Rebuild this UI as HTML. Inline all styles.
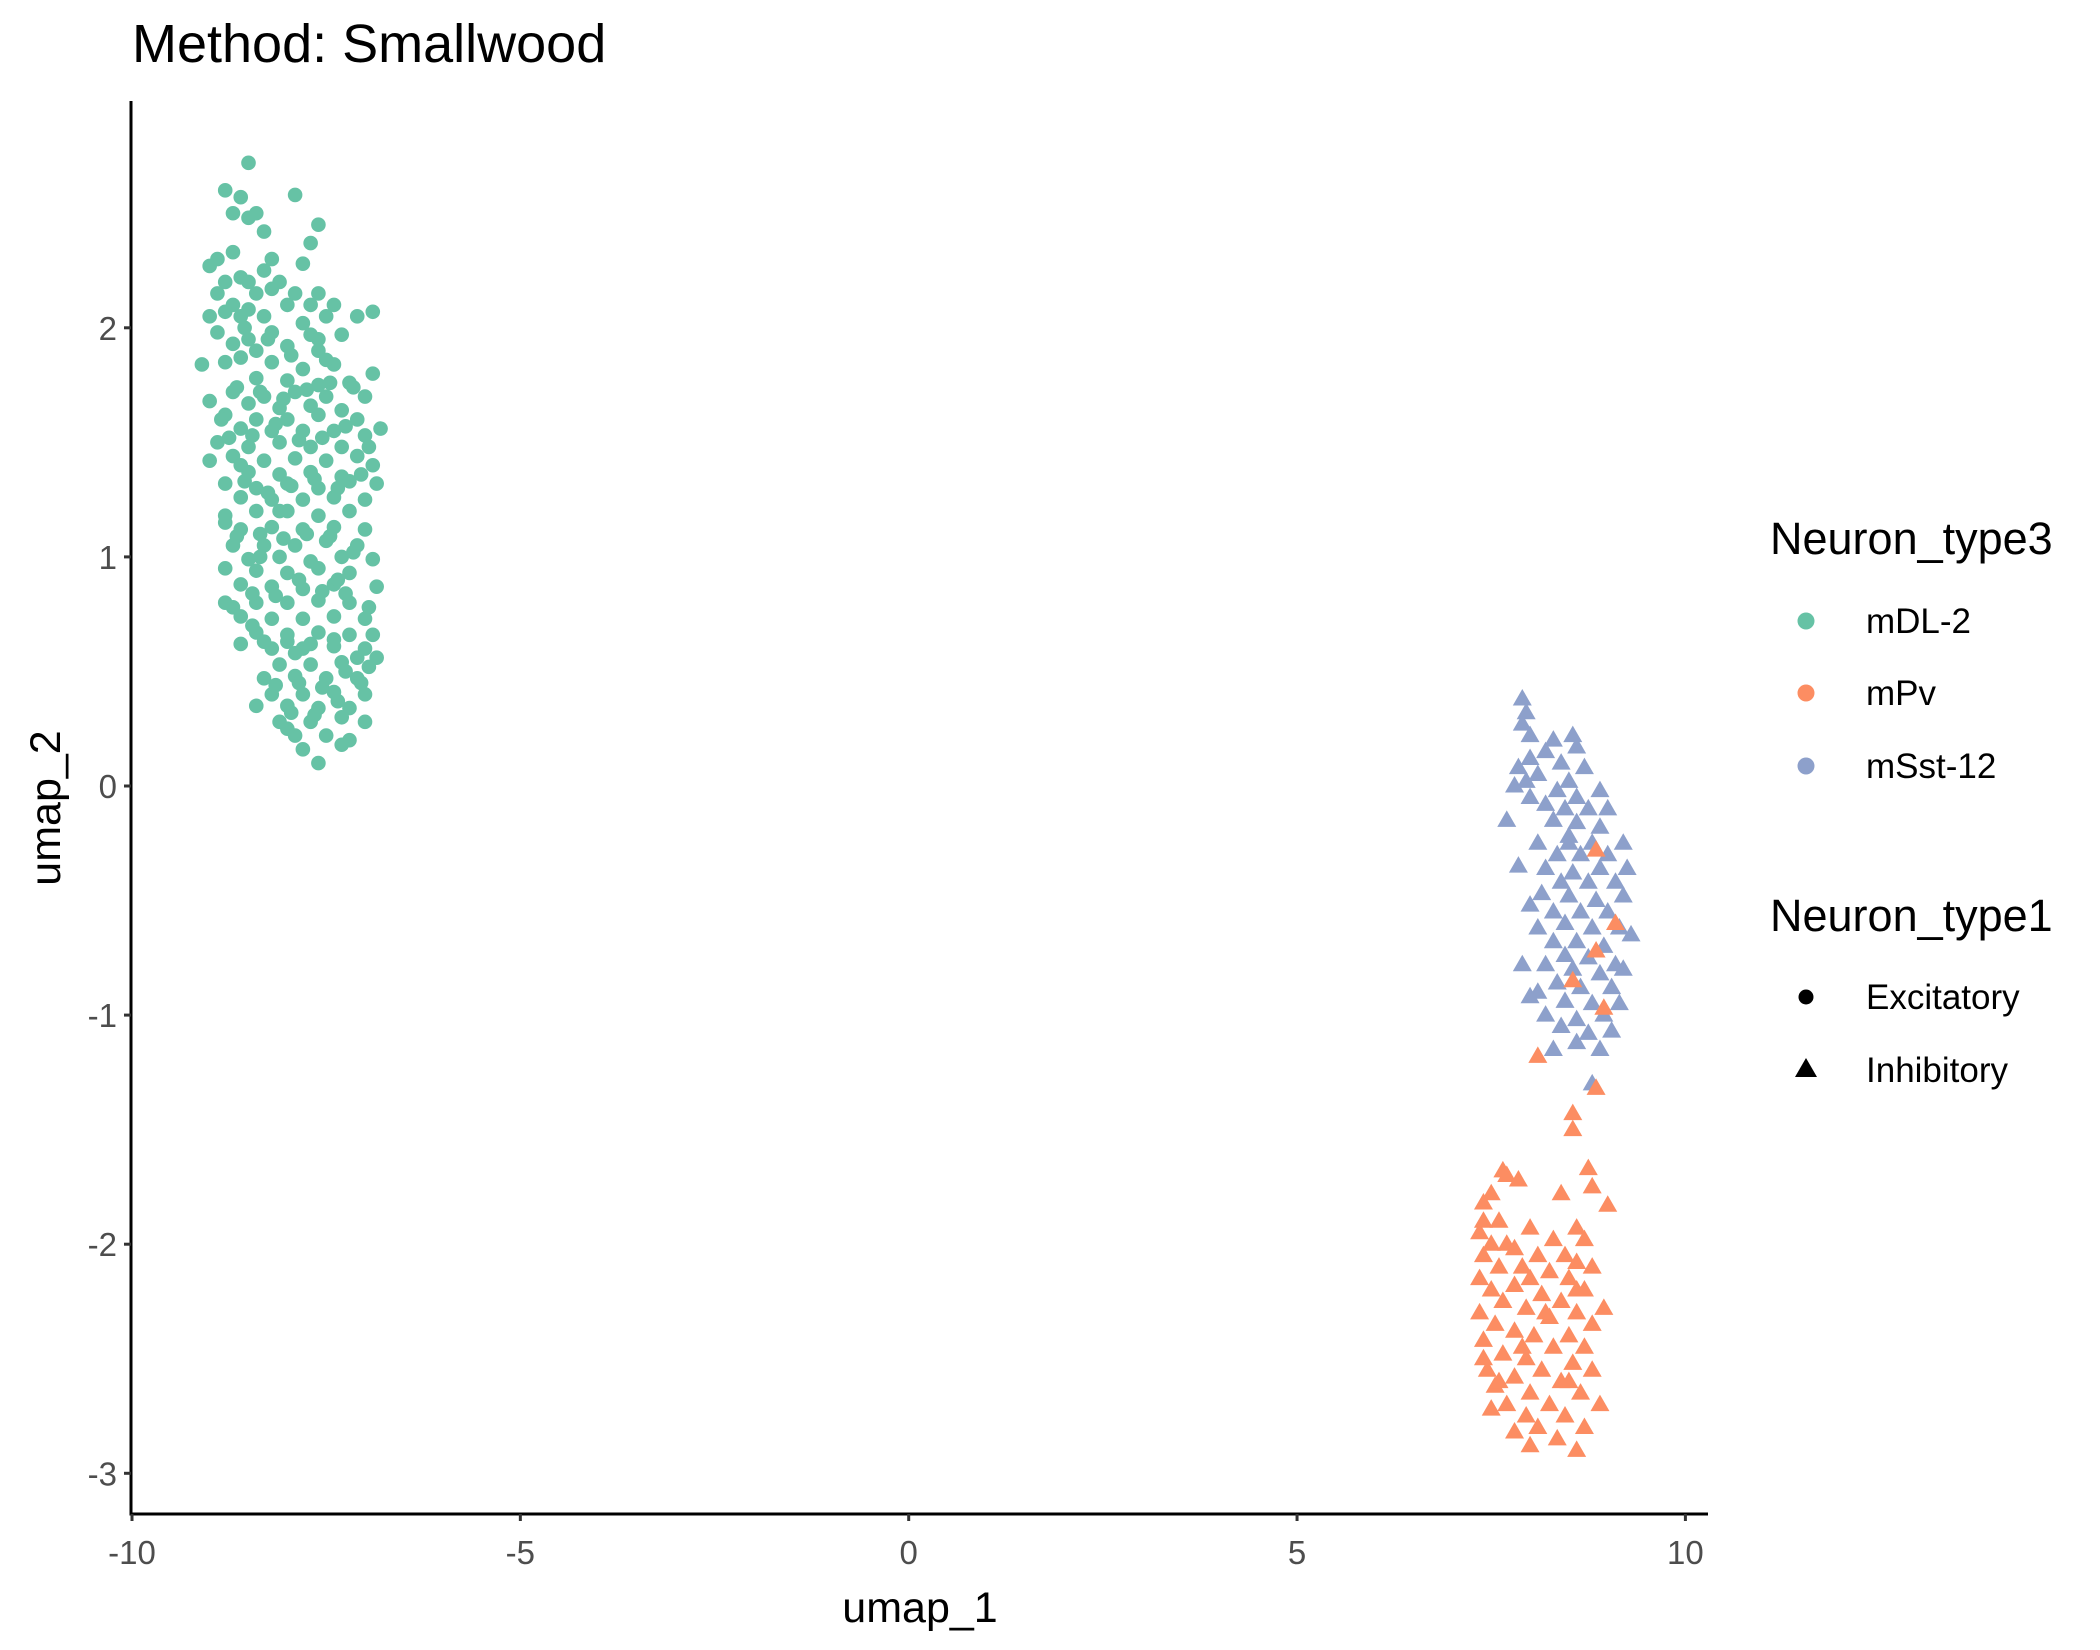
<!DOCTYPE html>
<html><head><meta charset="utf-8"><style>
html,body{margin:0;padding:0;background:#fff;}
svg{display:block;font-family:"Liberation Sans",Arial,sans-serif;}
</style></head><body>
<svg id="chart" width="2100" height="1650" viewBox="0 0 2100 1650" xmlns="http://www.w3.org/2000/svg">
<rect width="2100" height="1650" fill="#fff"/>
<text x="132" y="62" font-size="54" fill="#000">Method: Smallwood</text>
<g id="points"></g>
<g id="axes"></g>
<text x="920" y="1622" font-size="43" text-anchor="middle" fill="#000">umap_1</text>
<text transform="translate(60,808) rotate(-90)" font-size="43" text-anchor="middle" fill="#000">umap_2</text>
<g>
<text x="1770" y="554" font-size="45" fill="#000">Neuron_type3</text>
<g><circle cx="1806" cy="621" r="8.5" fill="#66c2a5"/><text x="1866" y="633" font-size="35" fill="#000">mDL-2</text></g>
<g><circle cx="1806" cy="693" r="8.5" fill="#fc8d62"/><text x="1866" y="705" font-size="35" fill="#000">mPv</text></g>
<g><circle cx="1806" cy="766" r="8.5" fill="#8da0cb"/><text x="1866" y="778" font-size="35" fill="#000">mSst-12</text></g>
</g>
<g>
<text x="1770" y="931" font-size="45" fill="#000">Neuron_type1</text>
<g><circle cx="1806" cy="997" r="7.5" fill="#000"/><text x="1866" y="1009" font-size="35" fill="#000">Excitatory</text></g>
<g><polygon points="1806,1058 1817,1077 1795,1077" fill="#000"/><text x="1866" y="1082" font-size="35" fill="#000">Inhibitory</text></g>
</g>
</svg>
<script>
const xTicks = [-10, -5, 0, 5, 10];
const yTicks = [-3, -2, -1, 0, 1, 2];
const greenX = [-8.5,-8.8,-8.6,-7.9,-8.7,-8.4,-8.5,-7.6,-8.3,-7.7,-8.7,-7.8,-9.0,-8.9,-8.3,-8.6,-8.8,-8.5,-8.1,-8.9,-8.4,-7.9,-7.6,-8.2,-8.7,-8.5,-8.0,-7.4,-6.9,-9.0,-8.8,-8.6,-8.3,-7.8,-7.5,-7.1,-8.9,-8.5,-8.2,-7.7,-7.3,-8.7,-8.4,-8.0,-7.6,-9.1,-8.8,-8.6,-8.2,-7.8,-7.4,-6.9,-8.4,-8.0,-7.6,-7.2,-8.7,-8.3,-7.9,-7.5,-7.0,-9.0,-8.5,-8.1,-7.7,-7.3,-8.8,-8.4,-8.0,-7.6,-7.1,-6.8,-8.6,-8.2,-7.8,-7.4,-7.0,-8.9,-8.5,-8.1,-7.7,-7.3,-8.7,-9.0,-8.3,-7.9,-7.5,-7.1,-6.9,-8.5,-8.1,-7.7,-7.3,-8.8,-8.4,-8.0,-7.6,-7.2,-6.85,-8.6,-8.2,-7.8,-7.4,-7.0,-8.8,-8.4,-8.0,-7.6,-7.2,-8.6,-8.2,-7.8,-7.4,-7.0,-8.7,-8.3,-7.9,-7.5,-7.1,-8.5,-8.1,-7.7,-7.3,-6.9,-8.8,-8.4,-8.0,-7.6,-7.2,-8.6,-8.2,-7.8,-7.4,-6.85,-8.8,-8.4,-8.0,-7.6,-7.2,-8.6,-8.2,-7.8,-7.4,-7.0,-8.4,-8.0,-7.6,-7.2,-6.9,-8.6,-8.2,-7.8,-7.4,-7.0,-6.85,-8.1,-7.7,-7.3,-6.95,-8.3,-7.9,-7.5,-7.1,-8.2,-7.8,-7.4,-7.0,-8.4,-8.0,-7.6,-7.2,-8.1,-7.7,-7.3,-7.0,-7.9,-7.5,-7.2,-7.8,-7.3,-7.6,-8.0,
 -8.65,-8.35,-8.05,-7.75,-7.45,-7.15,-8.75,-8.45,-8.15,-7.85,-7.55,-7.25,-6.95,-8.55,-8.25,-7.95,-7.65,-7.35,-7.05,-8.65,-8.35,-8.05,-7.75,-7.45,-7.15,-8.45,-8.15,-7.85,-7.55,-7.25,-6.95,-8.3,-8.0,-7.7,-7.4,-7.1,-8.15,-7.85,-7.55,-7.25,-7.95,-7.65,-7.35,-8.55,-8.25,-7.95,-8.85,-8.6,-8.35,-7.7,-8.2,-7.5,-8.8,-8.45,-7.35,-7.05,-8.7,-7.9,-8.1,-7.6];
const greenY = [2.72,2.6,2.57,2.58,2.5,2.5,2.48,2.45,2.42,2.37,2.33,2.28,2.27,2.3,2.25,2.22,2.2,2.2,2.2,2.15,2.15,2.15,2.15,2.17,2.1,2.08,2.1,2.1,2.07,2.05,2.07,2.05,2.05,2.02,2.05,2.05,1.98,1.95,1.98,1.97,1.97,1.93,1.9,1.92,1.9,1.84,1.85,1.87,1.85,1.82,1.84,1.8,1.78,1.77,1.75,1.76,1.72,1.7,1.72,1.7,1.7,1.68,1.67,1.65,1.66,1.64,1.62,1.6,1.6,1.62,1.6,1.56,1.56,1.55,1.55,1.55,1.53,1.5,1.48,1.5,1.48,1.48,1.44,1.42,1.42,1.43,1.42,1.44,1.4,1.37,1.36,1.37,1.35,1.32,1.3,1.32,1.3,1.33,1.32,1.26,1.25,1.25,1.26,1.25,1.18,1.2,1.2,1.18,1.2,1.12,1.13,1.12,1.13,1.12,1.05,1.05,1.05,1.07,1.05,0.99,1.0,0.98,1.0,0.99,0.95,0.94,0.93,0.95,0.93,0.88,0.87,0.86,0.88,0.87,0.8,0.8,0.8,0.81,0.8,0.74,0.73,0.73,0.74,0.73,0.67,0.66,0.67,0.66,0.66,0.62,0.6,0.6,0.61,0.6,0.56,0.53,0.53,0.54,0.52,0.47,0.48,0.47,0.47,0.4,0.4,0.41,0.4,0.35,0.35,0.34,0.34,0.28,0.28,0.3,0.28,0.22,0.22,0.2,0.16,0.18,0.1,0.25,
 1.74,1.72,1.69,1.73,1.76,1.74,1.52,1.53,1.58,1.51,1.52,1.57,1.48,1.33,1.28,1.31,1.34,1.3,1.36,1.09,1.1,1.08,1.1,1.09,1.02,0.84,0.83,0.9,0.85,0.84,0.78,0.63,0.63,0.62,0.64,0.56,0.44,0.45,0.43,0.5,0.32,0.31,0.37,2.0,1.95,1.88,1.6,1.4,1.0,2.1,2.3,1.86,1.15,0.7,0.9,0.45,0.78,0.58,1.2,1.95];
const blueX = [7.9,7.95,7.9,8.0,8.3,8.55,8.6,8.2,8.0,8.4,7.85,8.7,8.1,7.95,8.5,7.8,8.35,8.9,8.0,8.6,8.2,8.45,8.75,9.0,8.3,8.6,8.9,8.5,8.1,8.8,9.2,8.35,8.65,9.0,7.85,8.2,8.55,8.9,9.25,8.4,8.75,9.1,8.15,8.5,8.85,9.2,8.0,8.3,8.65,9.0,8.45,8.8,9.15,8.1,8.3,8.6,8.95,9.3,8.45,8.75,9.1,7.9,8.2,8.55,8.9,9.2,8.35,8.65,9.05,8.1,8.45,8.8,9.15,8.2,8.6,8.95,8.4,9.05,8.75,8.6,8.9,8.3,8.8,8.0,7.7,8.5];
const blueY = [0.38,0.32,0.27,0.22,0.2,0.22,0.17,0.15,0.12,0.1,0.08,0.08,0.05,0.02,0.02,0.0,-0.02,-0.02,-0.05,-0.05,-0.08,-0.1,-0.1,-0.1,-0.15,-0.16,-0.18,-0.22,-0.25,-0.25,-0.25,-0.3,-0.3,-0.3,-0.35,-0.36,-0.38,-0.36,-0.36,-0.42,-0.42,-0.42,-0.47,-0.48,-0.5,-0.48,-0.52,-0.55,-0.55,-0.55,-0.6,-0.62,-0.62,-0.62,-0.68,-0.68,-0.7,-0.65,-0.74,-0.75,-0.78,-0.78,-0.78,-0.8,-0.82,-0.8,-0.86,-0.88,-0.88,-0.9,-0.94,-0.95,-0.95,-1.0,-1.02,-1.0,-1.05,-1.07,-1.08,-1.12,-1.15,-1.15,-1.3,-0.92,-0.15,-0.25];
const orangeX = [8.85,9.1,8.85,8.55,8.95,8.1,8.85,8.55,8.55,8.75,7.65,7.7,7.85,8.8,7.5,8.4,7.4,9.0,7.4,7.6,8.0,8.6,7.35,7.5,8.3,8.7,7.8,8.1,8.45,7.4,7.9,8.6,8.8,7.6,8.25,7.35,8.0,8.5,7.8,8.7,7.5,8.15,8.4,7.65,8.95,7.35,7.95,8.6,8.25,7.55,8.8,7.8,8.05,8.5,7.4,8.3,8.7,7.65,7.95,8.55,7.45,8.15,8.8,7.8,8.4,7.55,8.0,8.65,7.7,8.25,8.9,7.5,7.95,8.45,8.1,8.7,7.8,8.35,8.6,8.0,7.6,8.2,7.7,8.5,7.9,8.6,7.4];
const orangeY = [-0.28,-0.6,-0.72,-0.85,-0.97,-1.18,-1.32,-1.43,-1.5,-1.67,-1.68,-1.7,-1.72,-1.75,-1.78,-1.78,-1.82,-1.83,-1.9,-1.9,-1.93,-1.93,-1.95,-2.0,-1.98,-1.98,-2.02,-2.05,-2.05,-2.05,-2.1,-2.08,-2.1,-2.1,-2.12,-2.15,-2.15,-2.15,-2.18,-2.2,-2.2,-2.22,-2.25,-2.25,-2.28,-2.3,-2.28,-2.3,-2.32,-2.35,-2.35,-2.38,-2.4,-2.4,-2.42,-2.45,-2.45,-2.48,-2.5,-2.52,-2.55,-2.55,-2.55,-2.58,-2.6,-2.62,-2.65,-2.65,-2.7,-2.7,-2.7,-2.72,-2.75,-2.75,-2.8,-2.8,-2.82,-2.85,-2.9,-2.88,-2.6,-2.3,-2.0,-2.6,-2.45,-2.2,-2.5];

const NS = 'http://www.w3.org/2000/svg';
const X0 = 132, XPU = 77.67;
const Y0 = 786, YPU = 229.1;
function sx(v){ return X0 + (v + 10) * XPU; }
function sy(v){ return Y0 - v * YPU; }

const pts = document.getElementById('points');
function circle(x, y, color){
  const c = document.createElementNS(NS, 'circle');
  c.setAttribute('cx', sx(x)); c.setAttribute('cy', sy(y)); c.setAttribute('r', 7.3);
  c.setAttribute('fill', color);
  
  
  pts.appendChild(c);
}
function tri(x, y, color){
  const cx = sx(x), cy = sy(y);
  const p = document.createElementNS(NS, 'polygon');
  p.setAttribute('points', cx + ',' + (cy - 10) + ' ' + (cx + 9.5) + ',' + (cy + 6.5) + ' ' + (cx - 9.5) + ',' + (cy + 6.5));
  p.setAttribute('fill', color);
  
  
  pts.appendChild(p);
}
greenX.forEach((x, i) => circle(x, greenY[i], '#66c2a5'));
blueX.forEach((x, i) => tri(x, blueY[i], '#8da0cb'));
orangeX.forEach((x, i) => tri(x, orangeY[i], '#fc8d62'));

const ax = document.getElementById('axes');
function line(x1, y1, x2, y2, w, col, name){
  const l = document.createElementNS(NS, 'line');
  l.setAttribute('x1', x1); l.setAttribute('y1', y1); l.setAttribute('x2', x2); l.setAttribute('y2', y2);
  l.setAttribute('stroke', col); l.setAttribute('stroke-width', w);
  
  
  ax.appendChild(l);
}
function text(x, y, s, anchor, name){
  const t = document.createElementNS(NS, 'text');
  t.setAttribute('x', x); t.setAttribute('y', y); t.setAttribute('text-anchor', anchor);
  t.setAttribute('font-size', 33); t.setAttribute('fill', '#4d4d4d');
  t.textContent = s;
  
  
  ax.appendChild(t);
}
const AXL = 131, AXB = 1514;
line(AXL, 101, AXL, AXB + 1.5, 3, '#000', 'y-axis-line');
line(AXL - 1.5, AXB, 1708, AXB, 3, '#000', 'x-axis-line');
xTicks.forEach(v => {
  line(sx(v), AXB, sx(v), AXB + 7, 3, '#333', 'x-tick');
  text(sx(v), AXB + 50, String(v), 'middle', 'x-tick-label');
});
yTicks.forEach(v => {
  line(AXL - 7, sy(v), AXL, sy(v), 3, '#333', 'y-tick');
  text(AXL - 14, sy(v) + 12, String(v), 'end', 'y-tick-label');
});
</script>
</body></html>
